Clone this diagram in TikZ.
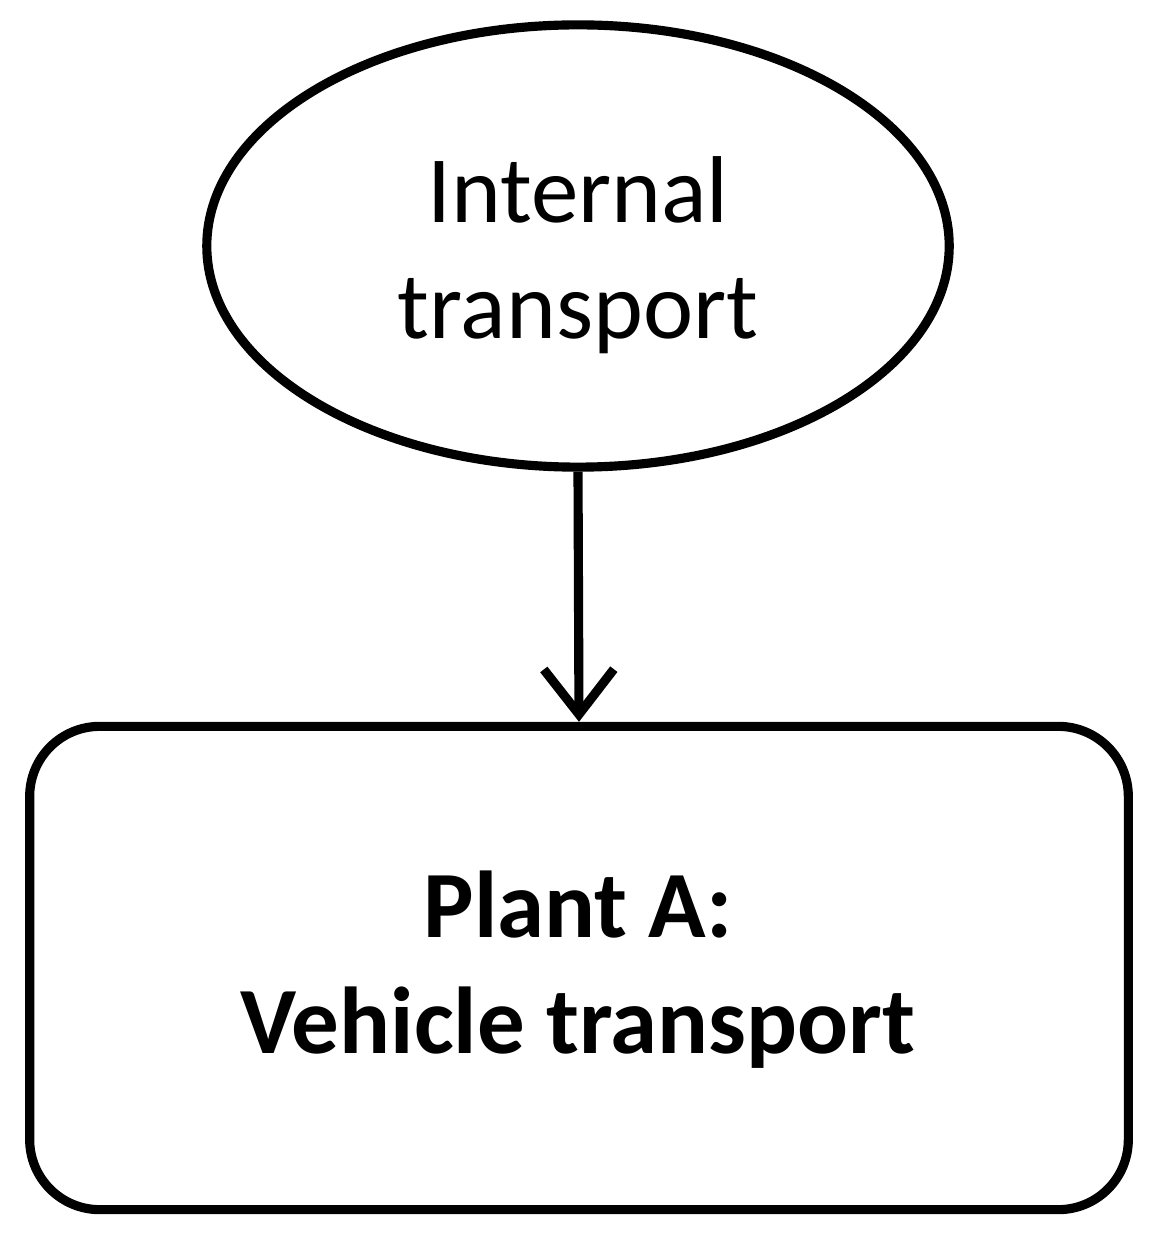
\documentclass[tikz,border=0pt]{standalone}
\usepackage{fontspec}
\setmainfont{Carlito}
\usetikzlibrary{shapes.geometric,arrows.meta}
\begin{document}
\begin{tikzpicture}[x=0.01cm,y=-0.01cm,
  shp/.style={draw=black,line width=2.6pt},
  txt/.style={font=\fontsize{27}{33}\selectfont,align=center}]
\useasboundingbox (0,0) rectangle (1157,1240);
\node[shp,ellipse,minimum width=7.42cm,minimum height=4.42cm] (e) at (578,246) {};
\node[txt] (et) at (578,255) {Internal\\transport};
\node[shp,rectangle,rounded corners=0.7cm,minimum width=10.98cm,minimum height=4.83cm] (r) at (579,968) {};
\node[txt,font=\fontsize{27}{33}\selectfont\bfseries] (rt) at (578,970) {Plant A:\\Vehicle transport};
\draw[line width=2.6pt,-{Straight Barb[length=0.45cm,width=0.7cm,line width=2.6pt]}] (e.south) -- (r.north);
\end{tikzpicture}
\end{document}
